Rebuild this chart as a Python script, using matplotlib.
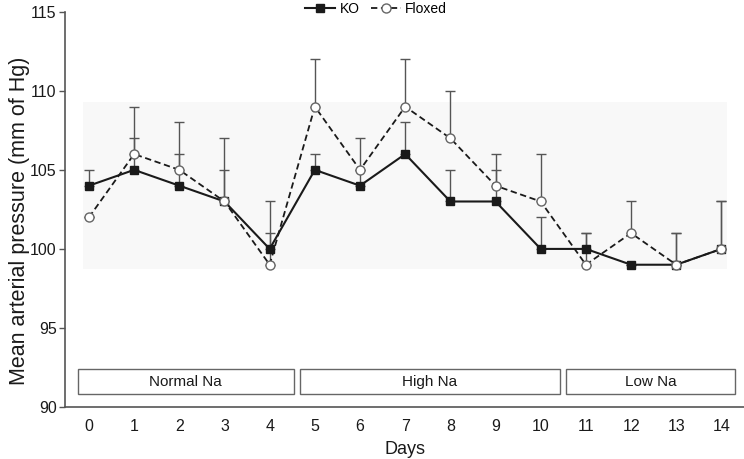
import matplotlib
matplotlib.use("Agg")
import matplotlib.pyplot as plt
from matplotlib.patches import Rectangle
from matplotlib import font_manager

plt.rcParams['font.family'] = ['Liberation Sans', 'DejaVu Sans']
names = {f.name for f in font_manager.fontManager.ttflist}
narrow = 'Liberation Sans Narrow' if 'Liberation Sans Narrow' in names else 'Liberation Sans'

days = list(range(15))
ko = [104, 105, 104, 103, 100, 105, 104, 106, 103, 103, 100, 100, 99, 99, 100]
ko_err = [1, 2, 2, 2, 1, 1, 1, 2, 2, 2, 2, 1, 0, 2, 3]
floxed = [102, 106, 105, 103, 99, 109, 105, 109, 107, 104, 103, 99, 101, 99, 100]
floxed_err = [0, 3, 3, 4, 4, 3, 2, 3, 3, 2, 3, 2, 2, 2, 3]
periods = ["Normal Na", "High Na", "Low Na"]
period_start = [-0.24, 4.67, 10.57]
period_end = [4.53, 10.42, 14.29]

fig = plt.figure(figsize=(7.44, 4.59), dpi=100)
ax = fig.add_axes([0.0874, 0.1133, 0.9126, 0.861])

ax.set_xlim(-0.53, 14.5)
ax.set_ylim(90, 115)

# light background band
ax.add_patch(Rectangle((-0.13, 98.7), 14.26, 10.6, facecolor='#f8f8f8', edgecolor='none', zorder=0))

errc = '#555555'
ax.errorbar(days, ko, yerr=[[0]*15, ko_err], fmt='none', ecolor=errc, elinewidth=1, capsize=3.5, capthick=1, zorder=2)
ax.errorbar(days, floxed, yerr=[[0]*15, floxed_err], fmt='none', ecolor=errc, elinewidth=1, capsize=3.5, capthick=1, zorder=2)

ax.plot(days, ko, color='#1a1a1a', lw=1.5, marker='s', markersize=5.8, markerfacecolor='#1a1a1a',
        markeredgecolor='#1a1a1a', label='KO', zorder=3)
ax.plot(days, floxed, color='#1a1a1a', lw=1.3, ls=(0, (3.5, 2)), marker='o', markersize=6.5,
        markerfacecolor='white', markeredgecolor='#666666', markeredgewidth=1, label='Floxed', zorder=4)

for name, s, e in zip(periods, period_start, period_end):
    ax.add_patch(Rectangle((s, 90.8), e - s, 1.6, facecolor='white', edgecolor='#666666', lw=1, zorder=1))
    ax.text((s + e) / 2, 91.6, name, ha='center', va='center', fontsize=11, color='#1a1a1a')

ax.set_xticks(days)
ax.set_yticks([90, 95, 100, 105, 110, 115])
ax.tick_params(axis='x', length=0, pad=9, colors='#1a1a1a')
ax.tick_params(axis='y', length=4, width=1, color='#555555', colors='#1a1a1a', pad=2)
ax.tick_params(axis='y', color='#555555')
for lab in ax.get_yticklabels() + ax.get_xticklabels():
    lab.set_color('#1a1a1a')
    lab.set_fontfamily([narrow, 'Liberation Sans'])
    lab.set_fontsize(11.5)

for sp in ['top', 'right']:
    ax.spines[sp].set_visible(False)
for sp in ['left', 'bottom']:
    ax.spines[sp].set_color('#555555')
    ax.spines[sp].set_linewidth(1.2)

ax.set_xlabel('Days', fontsize=13, color='#1a1a1a', labelpad=5)
fig.text(19.5 / 744, 1 - 221 / 459, 'Mean arterial pressure (mm of Hg)', rotation=90,
         ha='center', va='center', fontsize=15.5, color='#1a1a1a')

leg = ax.legend(loc='upper center', bbox_to_anchor=(0.458, 1.04), ncol=2, frameon=False, fontsize=10,
                handlelength=2.2, columnspacing=0.8, handletextpad=0.3, borderaxespad=0)

fig.savefig('out.png', dpi=100)
